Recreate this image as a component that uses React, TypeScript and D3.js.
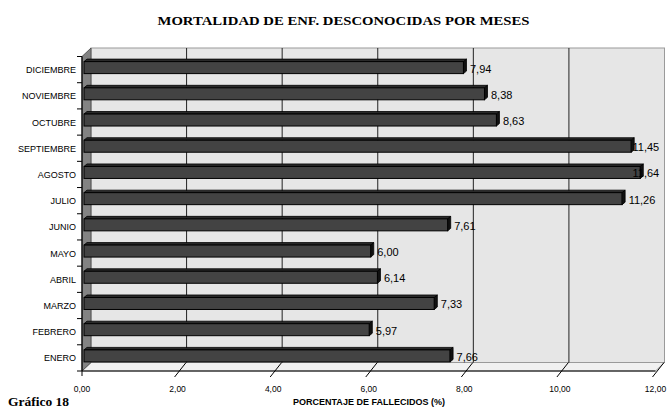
import React from "react";
import * as d3 from "d3";

const months = ["ENERO","FEBRERO","MARZO","ABRIL","MAYO","JUNIO","JULIO","AGOSTO","SEPTIEMBRE","OCTUBRE","NOVIEMBRE","DICIEMBRE"];
const values = [7.66,5.97,7.33,6.14,6.0,7.61,11.26,11.64,11.45,8.63,8.38,7.94];
const ticks = [0,2,4,6,8,10,12];
const title = "MORTALIDAD DE ENF. DESCONOCIDAS POR MESES";
const axisTitle = "PORCENTAJE DE FALLECIDOS (%)";
const caption = "Gráfico 18";

const fmt = (v: number) => v.toFixed(2).replace(".", ",");

export default function App() {
  const W = 667, H = 410;
  const x = d3.scaleLinear().domain([0, 12]).range([82, 655.5]);
  const yTop = 56.5, yBot = 371;
  const order = [...months].reverse(); // DICIEMBRE at top
  const y = d3.scaleBand<string>().domain(order).range([yTop, yBot]).padding(0);
  const DX = 9, DY = -8.5; // wall depth
  const fd = 2; // bar front face depth shift
  const bx = 3, by = -2.5; // bar depth
  const bh = 12;
  const sans = "'Liberation Sans', Arial, sans-serif";
  const serif = "'Liberation Serif', 'Times New Roman', serif";
  const x0 = x(0), x12 = x(12);

  return (
    <svg width={W} height={H} style={{ position: "fixed", left: 0, top: 0, background: "#fff" }}>
      <text x={343.5} y={25} textAnchor="middle" fontFamily={serif} fontWeight="bold" fontSize={13.5} textLength={372} lengthAdjust="spacingAndGlyphs">{title}</text>

      {/* back wall */}
      <rect x={x0 + DX} y={yTop + DY} width={x12 - x0} height={yBot - yTop} fill="#e6e6e6" stroke="#9a9a9a" strokeWidth={1} />
      {/* floor */}
      <polygon points={`${x0},${yBot} ${x12},${yBot} ${x12 + DX},${yBot + DY} ${x0 + DX},${yBot + DY}`} fill="#f1f1f1" stroke="#9a9a9a" strokeWidth={1} />
      {/* left wall */}
      <polygon points={`${x0},${yTop} ${x0 + DX},${yTop + DY} ${x0 + DX},${yBot + DY} ${x0},${yBot}`} fill="#838383" stroke="#444" strokeWidth={0.8} />

      {/* gridlines on back wall */}
      {ticks.filter(t => t > 0 && t < 12).map(t => (
        <line key={"g" + t} x1={x(t) + DX} x2={x(t) + DX} y1={yTop + DY} y2={yBot + DY} stroke="#222" strokeWidth={1} />
      ))}

      {/* bars */}
      {order.map((m) => {
        const i = months.indexOf(m);
        const v = values[i];
        const cy = (y(m) as number) + y.bandwidth() / 2 - fd;
        const xa = x0 + fd, xb = x(v) + fd;
        const yt = cy - bh / 2, yb = cy + bh / 2;
        const label = fmt(v);
        const lw = label.length * 5.9;
        let lx = xb + bx + 3.5;
        if (lx + lw > 662) lx = 662 - lw;
        return (
          <g key={m}>
            <polygon points={`${xa},${yt} ${xa + bx},${yt + by} ${xb + bx},${yt + by} ${xb},${yt}`} fill="#2a2a2a" stroke="#000" strokeWidth={0.8} />
            <rect x={xa} y={yt} width={xb - xa} height={bh} fill="#434343" stroke="#000" strokeWidth={1} />
            <polygon points={`${xb},${yt} ${xb + bx},${yt + by} ${xb + bx},${yb + by} ${xb},${yb}`} fill="#111" stroke="#000" strokeWidth={0.8} />
            <text x={lx} y={cy + 5} fontFamily={sans} fontSize={11} fill="#000">{label}</text>
          </g>
        );
      })}

      {/* axes */}
      <line x1={x0} x2={x0} y1={yTop} y2={yBot} stroke="#000" strokeWidth={1.2} />
      <line x1={x0} x2={x12} y1={yBot} y2={yBot} stroke="#000" strokeWidth={1.2} />
      {order.map((m) => (
        <line key={"yt" + m} x1={x0 - 5} x2={x0} y1={y(m) as number} y2={y(m) as number} stroke="#000" strokeWidth={1} />
      ))}
      <line x1={x0 - 5} x2={x0} y1={yBot} y2={yBot} stroke="#000" strokeWidth={1} />
      {order.map((m) => (
        <text key={"yl" + m} x={76} y={(y(m) as number) + y.bandwidth() / 2 + 3.5} textAnchor="end" fontFamily={sans} fontSize={9}>{m}</text>
      ))}
      {ticks.map(t => (
        <g key={"xt" + t}>
          {t > 0 && <line x1={x(t) - 3} y1={yBot + 6} x2={x(t) + DX - 0.5} y2={yBot + DY} stroke="#000" strokeWidth={1} />}
          {t === 0 && <line x1={x(t)} y1={yBot} x2={x(t)} y2={yBot + 5} stroke="#000" strokeWidth={1} />}
          <text x={x(t)} y={392} textAnchor="middle" fontFamily={sans} fontSize={8.5}>{fmt(t)}</text>
        </g>
      ))}
      <text x={369} y={405} textAnchor="middle" fontFamily={sans} fontWeight="bold" fontSize={8.5} textLength={152} lengthAdjust="spacingAndGlyphs">{axisTitle}</text>
      <text x={8} y={406} fontFamily={serif} fontWeight="bold" fontSize={13.5}>{caption}</text>
    </svg>
  );
}
